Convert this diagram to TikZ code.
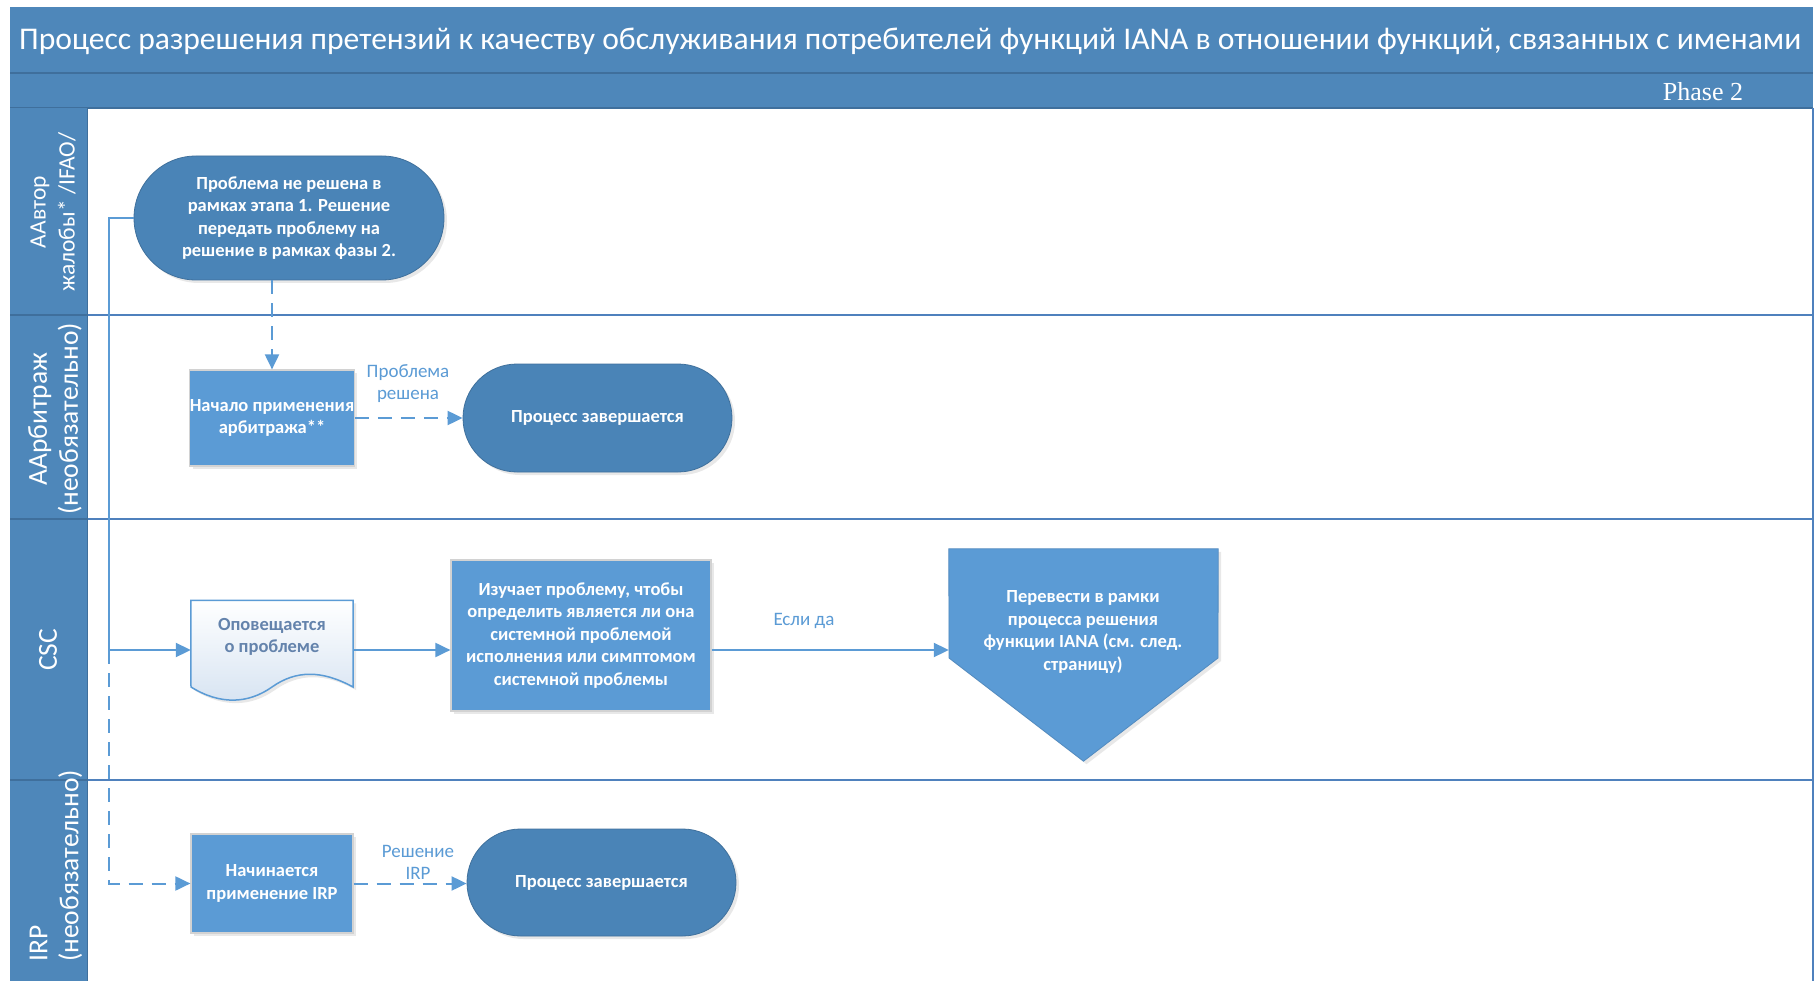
\documentclass[tikz,border=0pt]{standalone}
\usepackage{fontspec}
\setmainfont{Carlito}
\newfontfamily\phasefont{Liberation Serif}
\usetikzlibrary{arrows.meta,shapes.misc,shadows}
\definecolor{band}{HTML}{4E87BA}
\definecolor{bandline}{HTML}{3F6F9C}
\definecolor{ovalc}{HTML}{4A84B7}
\definecolor{boxc}{HTML}{5B9BD5}
\definecolor{linec}{HTML}{5B9BD5}
\definecolor{lanec}{HTML}{4F81BD}
\definecolor{doctext}{HTML}{6483AC}
\definecolor{docfill}{HTML}{D6E3F2}
\tikzset{
  shd/.style={drop shadow={opacity=0.18,shadow xshift=3pt,shadow yshift=-3pt}},
  oval/.style={rounded rectangle, fill=ovalc, draw=ovalc!85!black, line width=0.8pt,
    text=white, align=center, inner sep=0pt, shd,
    font=\fontsize{18.5}{22.5}\selectfont\bfseries},
  procbox/.style={rectangle, fill=boxc, draw=gray!35, line width=1.2pt,
    text=white, align=center, inner sep=0pt, shd,
    font=\fontsize{18.5}{22.5}\selectfont\bfseries},
  flow/.style={draw=linec, line width=2pt, -{Triangle[length=15pt,width=14pt]}},
  dflow/.style={flow, dash pattern=on 14pt off 9pt},
  lbl/.style={text=linec, align=center, font=\fontsize{19}{22}\selectfont},
  lanetext/.style={text=white, rotate=90, inner sep=0pt,
    font=\fontsize{27.5}{31}\selectfont},
  laneline/.style={draw=lanec, line width=1.8pt},
}
\begin{document}
\begin{tikzpicture}[x=1pt,y=-1pt]
\useasboundingbox (0,0) rectangle (1817,981);
\fill[white] (0,0) rectangle (1817,981);
% bands
\fill[band] (10,7) rectangle (1813,108);
\draw[bandline, line width=1.5pt] (10,73) -- (1813,73);
\draw[bandline, line width=1.5pt] (10,108) -- (1813,108);
\node[text=white, font=\fontsize{31.6}{36}\selectfont] (title) at (910,41)
  {Процесс разрешения претензий к качеству обслуживания потребителей функций IANA в отношении функций, связанных с именами};
\node[text=white, font=\phasefont\fontsize{26}{30}\selectfont] (phase) at (1703,92) {Phase 2};
% lane header column
\fill[band] (10,108) rectangle (87,981);
% lane lines
\draw[laneline] (87,315) -- (1813,315);
\draw[laneline] (87,519) -- (1813,519);
\draw[laneline] (87,780) -- (1813,780);
\draw[bandline, line width=1.5pt] (10,315) -- (87,315);
\draw[bandline, line width=1.5pt] (10,519) -- (87,519);
\draw[bandline, line width=1.5pt] (10,780) -- (87,780);
\draw[laneline] (1813,108) -- (1813,981);
\draw[bandline, line width=1pt] (87,108) -- (87,981);
% lane labels
\node[lanetext, align=center, font=\fontsize{23.5}{29}\selectfont] (l1) at (53,212) {ААвтор\\жалобы* /IFAO/};
\node[lanetext, align=center] (l2) at (55,419) {ААрбитраж\\(необязательно)};
\node[lanetext] (l3) at (48,650) {CSC};
\node[lanetext, align=left, anchor=west] (l4) at (56,962) {IRP\\(необязательно)};
% nodes
\node[oval, minimum width=310pt, minimum height=124pt] (oval1) at (289,218)
  {Проблема не решена в\\рамках этапа 1. Решение\\передать проблему на\\решение в рамках фазы 2.};
\node[procbox, minimum width=162pt, minimum height=96pt] (box1) at (272,418)
  {Начало применения\\арбитража**};
\node[oval, minimum width=269pt, minimum height=108pt] (oval2) at (597.5,418)
  {Процесс завершается};
% document shape
\node[minimum width=162pt, minimum height=99pt, inner sep=0pt] (doc) at (272,650) {};
\path[shd, draw=linec, line width=1.5pt, top color=white, bottom color=docfill]
  (doc.north west) -- (doc.north east) -- (353,687)
  .. controls (322,670) and (296,670) .. (272,687)
  .. controls (248,704) and (220,705) .. (191,687) -- cycle;
\node[text=doctext, align=center, font=\fontsize{18.5}{22.5}\selectfont\bfseries] (doctxt) at (272,637)
  {Оповещается\\о проблеме};
\node[procbox, minimum width=260pt, minimum height=151pt] (box2) at (581,635.5)
  {Изучает проблему, чтобы\\определить является ли она\\системной проблемой\\исполнения или симптомом\\системной проблемы};
% off-page reference (pentagon)
\node[minimum width=269pt, minimum height=212pt, inner sep=0pt] (pent) at (1083.5,655) {};
\path[shd, fill=boxc, draw=boxc!90!black, line width=0.8pt]
  (pent.north west) -- (pent.north east) -- (1218,658) -- (pent.south) -- (949,658) -- cycle;
\node[text=white, align=center, font=\fontsize{18.5}{22.5}\selectfont\bfseries] (penttxt) at (1083,632)
  {Перевести в рамки\\процесса решения\\функции IANA (см. след.\\страницу)};
\node[procbox, minimum width=162pt, minimum height=99pt] (box3) at (272,883.5)
  {Начинается\\применение IRP};
\node[oval, minimum width=269pt, minimum height=107pt] (oval3) at (601.5,882.5)
  {Процесс завершается};
% connectors
\coordinate (spine) at (109,650);
\draw[flow] (oval1.west) -| (spine) -- (doc.west);
\draw[dflow] (spine) |- (box3.west);
\draw[dflow] (box1.north |- oval1.south) -- (box1.north);
\draw[dflow] (box1.east) -- (oval2.west);
\draw[flow] (doc.east) -- (doc.east -| box2.west);
\draw[flow] (doc.east -| box2.east) -- (doc.east -| pent.west);
\draw[dflow] (box3.east) -- (box3.east -| oval3.west);
% labels
\node[lbl] (lab1) at (408,384) {Проблема\\решена};
\node[lbl] (lab2) at (804,621) {Если да};
\node[lbl] (lab3) at (418,862) {Решение\\IRP};
\end{tikzpicture}
\end{document}
